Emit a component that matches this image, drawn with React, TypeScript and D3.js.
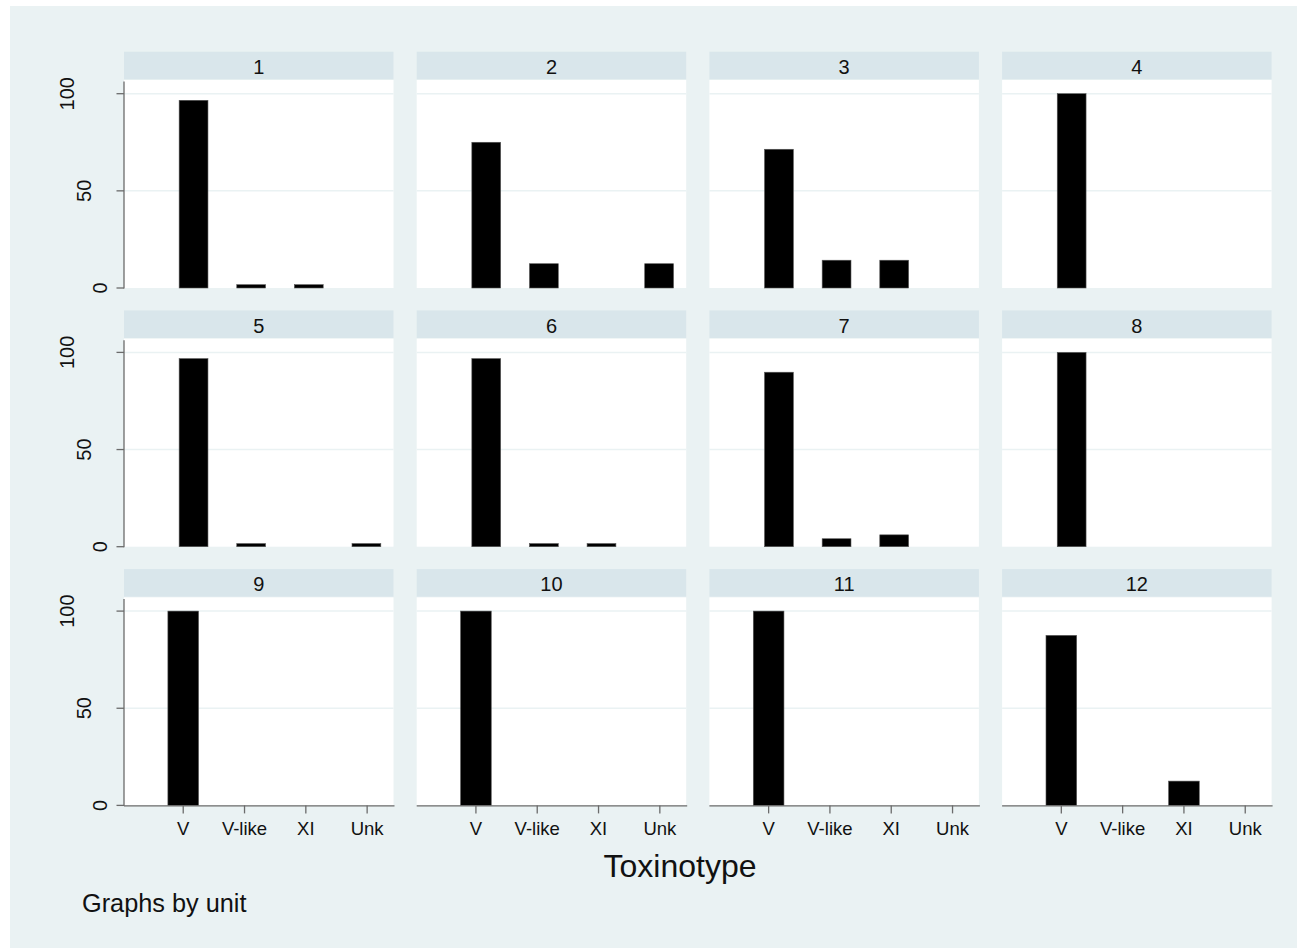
import { useRef, useEffect } from 'react'
import * as d3 from 'd3'

// percent of isolates by toxinotype, one entry per unit (panel)
const units = ['1', '2', '3', '4', '5', '6', '7', '8', '9', '10', '11', '12']
const toxinotypes = ['V', 'V-like', 'XI', 'Unk']
const pctV = [96.6, 75, 71.4, 100, 96.8, 96.8, 89.8, 100, 100, 100, 100, 87.5]
const pctVlike = [1.7, 12.5, 14.3, 0, 1.6, 1.6, 4.1, 0, 0, 0, 0, 0]
const pctXI = [1.7, 0, 14.3, 0, 0, 1.6, 6.1, 0, 0, 0, 0, 12.5]
const pctUnk = [0, 12.5, 0, 0, 1.6, 0, 0, 0, 0, 0, 0, 0]
const yTicks = [0, 50, 100]

function App() {
  const ref = useRef<SVGSVGElement>(null)

  useEffect(() => {
    const svg = d3.select(ref.current)
    svg.selectAll('*').remove()

    const W = 1300, H = 950
    const bg = '#eaf2f3', strip = '#d9e6eb', axisCol = '#6b6b6b'
    const font = '"Liberation Sans", Arial, sans-serif'

    svg.attr('width', W).attr('height', H)
    svg.append('rect').attr('width', W).attr('height', H).attr('fill', '#fff')
    svg.append('rect').attr('x', 10).attr('y', 6).attr('width', 1287).attr('height', 942).attr('fill', bg)

    const series = [pctV, pctVlike, pctXI, pctUnk]
    const nCols = 4
    const colStep = 292.7, panelW = 269.5
    const rowStep = 258.7, stripH = 27.6

    units.forEach((u, i) => {
      const r = Math.floor(i / nCols), c = i % nCols
      const left = 124 + c * colStep
      const stripTop = 51.7 + r * rowStep
      const plotTop = stripTop + 28.3
      const y0 = stripTop + 236.3
      const lastRow = r === 2

      const y = d3.scaleLinear().domain([0, 107.05]).range([y0, plotTop])
      // bottom row carries the axis; upper rows were drawn a little narrower
      const x = d3.scaleLinear()
        .domain(lastRow ? [0.034, 4.43] : [-0.207, 4.47])
        .range([left, left + panelW])

      const g = svg.append('g')

      // strip
      g.append('rect').attr('x', left).attr('y', stripTop).attr('width', panelW).attr('height', stripH).attr('fill', strip)
      g.append('text').attr('x', left + panelW / 2).attr('y', stripTop + 22.3)
        .attr('text-anchor', 'middle').style('font', `20px ${font}`).attr('fill', '#111').text(u)

      // plot region
      g.append('rect').attr('x', left).attr('y', plotTop).attr('width', panelW).attr('height', y0 - plotTop).attr('fill', '#fff')
      g.selectAll('.grid').data(yTicks.filter(t => t > 0)).enter().append('line')
        .attr('x1', left).attr('x2', left + panelW)
        .attr('y1', d => y(d)).attr('y2', d => y(d))
        .attr('stroke', bg).attr('stroke-width', 1.5)

      // bars
      const vals = toxinotypes.map((t, k) => ({ k: k + 1, v: series[k][i] })).filter(d => d.v > 0)
      g.selectAll('.bar').data(vals).enter().append('rect')
        .attr('x', d => x(d.k - 0.25))
        .attr('width', d => x(d.k + 0.25) - x(d.k - 0.25))
        .attr('y', d => y(d.v))
        .attr('height', d => y0 - y(d.v))
        .attr('fill', '#000').attr('stroke', '#555').attr('stroke-width', 0.6)

      // y axis on the first column
      if (c === 0) {
        g.append('line').attr('x1', left).attr('x2', left).attr('y1', plotTop + 1.5).attr('y2', y0 + 0.5)
          .attr('stroke', axisCol).attr('stroke-width', 1.3)
        yTicks.forEach(t => {
          g.append('line').attr('x1', left - 7.5).attr('x2', left).attr('y1', y(t)).attr('y2', y(t))
            .attr('stroke', axisCol).attr('stroke-width', 1.3)
          const label = String(t)
          const bx = left - 17 - (label.length - 1) * 16.3
          g.append('text')
            .attr('transform', `translate(${bx},${y(t)})rotate(-90)`)
            .attr('text-anchor', 'middle').style('font', `20px ${font}`).attr('fill', '#111')
            .text(label)
        })
      }

      // x axis on the bottom row
      if (lastRow) {
        g.append('line').attr('x1', left).attr('x2', left + panelW + 1).attr('y1', y0 + 0.5).attr('y2', y0 + 0.5)
          .attr('stroke', axisCol).attr('stroke-width', 1.3)
        toxinotypes.forEach((t, k) => {
          const xx = x(k + 1)
          g.append('line').attr('x1', xx).attr('x2', xx).attr('y1', y0).attr('y2', y0 + 8)
            .attr('stroke', axisCol).attr('stroke-width', 1.3)
          g.append('text').attr('x', xx).attr('y', y0 + 29.5)
            .attr('text-anchor', 'middle').style('font', `18.5px ${font}`).attr('fill', '#111').text(t)
        })
      }
    })

    svg.append('text').attr('x', 680).attr('y', 877).attr('text-anchor', 'middle')
      .style('font', `32px ${font}`).attr('fill', '#111').text('Toxinotype')
    svg.append('text').attr('x', 82).attr('y', 912)
      .style('font', `25.3px ${font}`).attr('fill', '#111').text('Graphs by unit')
  }, [])

  return (
    <svg ref={ref} style={{ position: 'absolute', left: 0, top: 0 }} />
  )
}

export default App
